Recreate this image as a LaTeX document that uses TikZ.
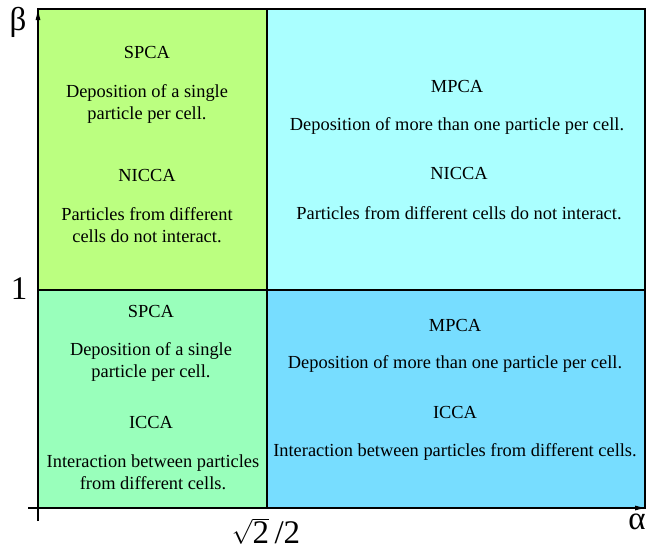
\documentclass[tikz,border=0pt]{standalone}
\usepackage{fontspec}
\setmainfont{Liberation Serif}
\usetikzlibrary{arrows.meta}
\usetikzlibrary{positioning}

\definecolor{tlgreen}{HTML}{BBFF80}
\definecolor{blmint}{HTML}{99FFBB}
\definecolor{trcyan}{HTML}{AAFFFF}
\definecolor{brblue}{HTML}{77DDFF}

\begin{document}
\begin{tikzpicture}[x=1pt, y=-1pt,
  quad/.style={draw=black, line width=1.2pt},
  txt/.style={align=center, font=\fontsize{18.4}{21.5}\selectfont, inner sep=0pt},
  axlab/.style={font=\fontsize{33}{35}\selectfont, inner sep=0pt},
  every path/.style={line width=1.4pt},
]
\tikzset{>={Latex[length=12pt, width=5pt]}}
\useasboundingbox (0,0) rectangle (648,550);

%% Quadrants
\filldraw[quad, fill=tlgreen] (38,9)   rectangle (267,290);
\filldraw[quad, fill=trcyan]  (267,9)  rectangle (645,290);
\filldraw[quad, fill=blmint]  (38,290) rectangle (267,508);
\filldraw[quad, fill=brblue]  (267,290) rectangle (645,508);

%% Axes
\coordinate (ybot) at (38,521);
\coordinate (ytop) at (38,8);
\coordinate (xleft) at (28,508);
\coordinate (xright) at (647,508);
\draw[->] (ybot) -- (ytop);
\draw[->] (xleft) -- (xright);

\node[axlab] (beta)  at (18,22)  {β};
\node[axlab] (one)   at (19,289) {1};
\node[axlab] (half)  at (266,531) {$\sqrt{\mbox{2}}$\,/2};
\node[axlab] (alpha) at (637,522) {α};

%% Top left
\node[txt] (spca1)  at (147,52)  {SPCA};
\node[txt] (dep1)   at (147,104) {Deposition of a single\\particle per cell.};
\node[txt] (nicca1) at (147,175) {NICCA};
\node[txt] (nint1)  at (147,225) {Particles from different\\cells do not interact.};

%% Top right
\node[txt] (mpca1)  at (457,86)  {MPCA};
\node[txt] (dep2)   at (457,126) {Deposition of more than one particle per cell.};
\node[txt] (nicca2) at (459,173) {NICCA};
\node[txt] (nint2)  at (459,213) {Particles from different cells do not interact.};

%% Bottom left
\node[txt] (spca2)  at (151,311) {SPCA};
\node[txt] (dep3)   at (151,362) {Deposition of a single\\particle per cell.};
\node[txt] (icca1)  at (151,422) {ICCA};
\node[txt] (int1)   at (153,472) {Interaction between particles\\from different cells.};

%% Bottom right
\node[txt] (mpca2)  at (455,325) {MPCA};
\node[txt] (dep4)   at (455,364) {Deposition of more than one particle per cell.};
\node[txt] (icca2)  at (455,412) {ICCA};
\node[txt] (int2)   at (455,452) {Interaction between particles from different cells.};

\end{tikzpicture}
\end{document}
